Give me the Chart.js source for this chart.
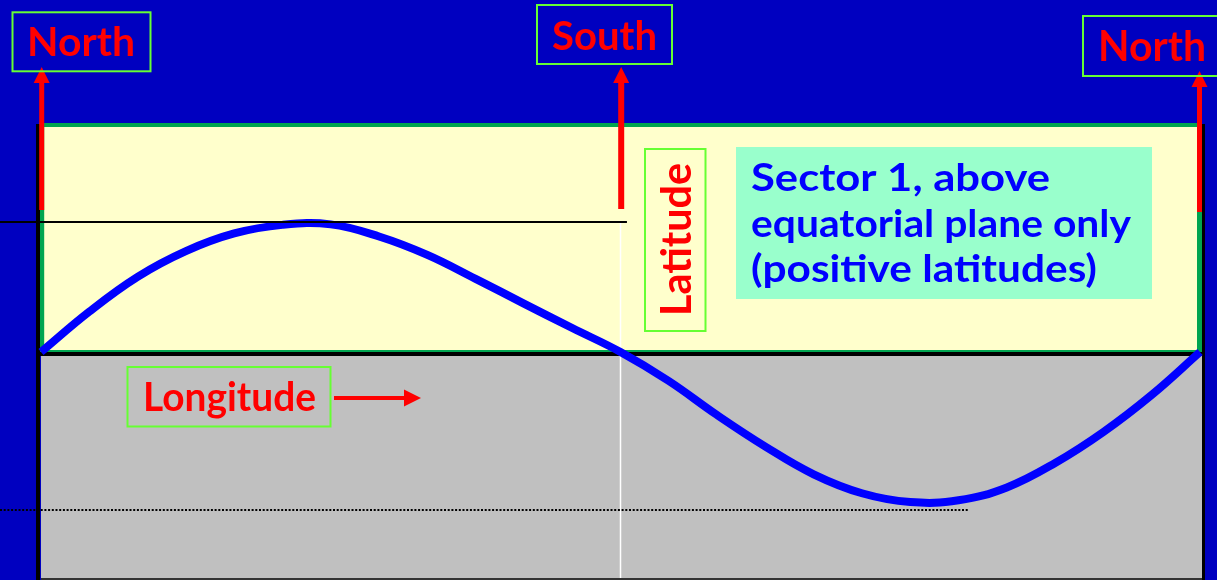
<!DOCTYPE html>
<html>
<head>
<meta charset="utf-8">
<script src="https://cdn.jsdelivr.net/npm/chart.js@4/dist/chart.umd.min.js"></script>
<style>
html,body{margin:0;padding:0;background:#0000C0;overflow:hidden}
canvas{display:block}
</style>
</head>
<body>
<canvas id="c" width="1217" height="580"></canvas>
<script>
// ---- data ----
const longitudes = [0,15,30,45,60,75,90,105,120,135,150,165,180,195,210,225,240,255,270,285,300,315,330,345,360];
const latitudes  = [0,16,29.8,40,47,50.4,50.6,45.8,38.5,29,19.2,9.5,0,-11.5,-25,-37.5,-48.5,-56,-59.5,-58.8,-53.7,-44,-31.7,-17,0];
const lonRange = [0, 360];
const latRange = [-90, 90];
const poleLongitudes = [0, 180, 360];
const poleNames = ['North', 'South', 'North'];
const axisNames = ['Latitude', 'Longitude'];
const noteLines = ['Sector 1, above', 'equatorial plane only', '(positive latitudes)'];
const markerLats = [51.5, -62.5];
const markerEndLons = [182, 288.3];

const FONT = 'Lato, "DejaVu Sans", sans-serif';
const RED = '#FF0000', BOXGREEN = '#66FF33';

function fitText(ctx, text, x, y, cap, width, color, rot) {
  ctx.save();
  ctx.font = 'bold 100px ' + FONT;
  const r = ctx.measureText('H').actualBoundingBoxAscent / 100;
  const size = cap / r;
  ctx.font = 'bold ' + size + 'px ' + FONT;
  const w = ctx.measureText(text).width;
  ctx.translate(x, y);
  if (rot) ctx.rotate(rot);
  ctx.scale(width / w, 1);
  ctx.fillStyle = color;
  ctx.textAlign = 'left';
  ctx.textBaseline = 'alphabetic';
  ctx.fillText(text, 0, 0);
  ctx.restore();
}
function arrowV(ctx, x, yTail, yTip, shaftW, headW, headL, color) {
  ctx.fillStyle = color;
  ctx.fillRect(x - shaftW / 2, yTip + headL - 1, shaftW, yTail - (yTip + headL - 1));
  ctx.beginPath();
  ctx.moveTo(x, yTip);
  ctx.lineTo(x + headW / 2, yTip + headL);
  ctx.lineTo(x - headW / 2, yTip + headL);
  ctx.closePath();
  ctx.fill();
}
function arrowH(ctx, xTail, xTip, y, shaftW, headW, headL, color) {
  ctx.fillStyle = color;
  ctx.fillRect(xTail, y - shaftW / 2, (xTip - headL + 1) - xTail, shaftW);
  ctx.beginPath();
  ctx.moveTo(xTip, y);
  ctx.lineTo(xTip - headL, y - headW / 2);
  ctx.lineTo(xTip - headL, y + headW / 2);
  ctx.closePath();
  ctx.fill();
}
function box(ctx, x, y, w, h) {
  ctx.save();
  ctx.strokeStyle = BOXGREEN;
  ctx.lineWidth = 2;
  ctx.strokeRect(x, y, w, h);
  ctx.restore();
}

const backdrop = {
  id: 'backdrop',
  beforeDraw(chart) {
    const ctx = chart.ctx, xs = chart.scales.x, ys = chart.scales.y;
    const W = chart.width, H = chart.height;
    const x0 = xs.getPixelForValue(lonRange[0]), x1 = xs.getPixelForValue(lonRange[1]);
    const yTop = ys.getPixelForValue(latRange[1]), yEq = ys.getPixelForValue(0), yBot = ys.getPixelForValue(latRange[0]);
    ctx.save();
    ctx.fillStyle = '#0000C0';
    ctx.fillRect(0, 0, W, H);
    ctx.fillStyle = '#FFFFCC';
    ctx.fillRect(x0 - 1, yTop, x1 - x0 + 2, yEq - yTop);
    ctx.fillStyle = '#C0C0C0';
    ctx.fillRect(x0, yEq + 4, x1 - x0 + 2, yBot - yEq - 4);
    ctx.strokeStyle = '#00A550';
    ctx.lineWidth = 4;
    ctx.beginPath();
    ctx.moveTo(x0 - 2, yTop); ctx.lineTo(x1 + 2, yTop);
    ctx.stroke();
    ctx.lineWidth = 5;
    ctx.beginPath();
    ctx.moveTo(x0 + 0.7, yTop); ctx.lineTo(x0 + 0.7, yEq);
    ctx.moveTo(x1 - 0.5, yTop); ctx.lineTo(x1 - 0.5, yEq);
    ctx.stroke();
    ctx.lineWidth = 2;
    ctx.beginPath();
    ctx.moveTo(x0, yEq - 1); ctx.lineTo(x1, yEq - 1);
    ctx.stroke();
    const xm = xs.getPixelForValue(poleLongitudes[1]);
    ctx.strokeStyle = '#FFFFFF';
    ctx.lineWidth = 1.5;
    ctx.beginPath();
    ctx.moveTo(xm, ys.getPixelForValue(markerLats[0]) + 1); ctx.lineTo(xm, H);
    ctx.stroke();
    ctx.strokeStyle = '#000000';
    ctx.lineWidth = 4;
    ctx.beginPath();
    ctx.moveTo(x0 - 3, yTop - 1); ctx.lineTo(x0 - 3, H);
    ctx.moveTo(x0 - 5, yEq + 2); ctx.lineTo(x1 + 5, yEq + 2);
    ctx.stroke();
    ctx.lineWidth = 3;
    ctx.beginPath();
    ctx.moveTo(x1 + 3.5, yTop - 1); ctx.lineTo(x1 + 3.5, H);
    ctx.stroke();
    ctx.lineWidth = 2;
    ctx.strokeStyle = '#333333';
    ctx.beginPath();
    ctx.moveTo(x0, H - 1); ctx.lineTo(x1 + 2, H - 1);
    ctx.stroke();
    ctx.restore();
  },
  afterDatasetsDraw(chart) {
    const ctx = chart.ctx, xs = chart.scales.x, ys = chart.scales.y;
    ctx.save();
    ctx.strokeStyle = '#000000';
    ctx.lineWidth = 2;
    const yMax = Math.round(ys.getPixelForValue(markerLats[0]));
    ctx.beginPath();
    ctx.moveTo(0, yMax); ctx.lineTo(xs.getPixelForValue(markerEndLons[0]), yMax);
    ctx.stroke();
    const yMin = Math.round(ys.getPixelForValue(markerLats[1]));
    ctx.setLineDash([2, 1.7]);
    ctx.lineWidth = 2;
    ctx.strokeStyle = '#000000';
    ctx.beginPath();
    ctx.moveTo(0, yMin); ctx.lineTo(xs.getPixelForValue(markerEndLons[1]), yMin);
    ctx.stroke();
    ctx.setLineDash([]);
    const tails = [210, 209, 212], tips = [67, 67, 71], shafts = [5, 6, 5];
    poleLongitudes.forEach((lon, i) => {
      const x = xs.getPixelForValue(lon) + (i === 2 ? -0.5 : 0.7);
      arrowV(ctx, x, tails[i], tips[i], shafts[i], 16, 16, RED);
    });
    box(ctx, 12.5, 12.3, 138, 59);
    fitText(ctx, poleNames[0], 27, 56, 29.5, 108, RED);
    box(ctx, 537, 5, 135, 59);
    fitText(ctx, poleNames[1], 552, 49.5, 29.5, 105, RED);
    box(ctx, 1083, 16, 140, 60);
    fitText(ctx, poleNames[2], 1098, 61, 30.5, 108, RED);
    box(ctx, 645, 149, 60.5, 182);
    fitText(ctx, axisNames[0], 690.5, 316, 30, 153, RED, -Math.PI / 2);
    box(ctx, 127.5, 367, 203, 59.5);
    fitText(ctx, axisNames[1], 143, 411, 29, 173, RED);
    arrowH(ctx, 334, 421, 398, 4, 17, 17, RED);
    ctx.fillStyle = '#99FFCC';
    ctx.fillRect(736, 147, 416, 152);
    const noteWidths = [299, 380, 346];
    const noteBase = [191, 237, 282];
    noteLines.forEach((t, i) => fitText(ctx, t, 751, noteBase[i], 27.5, noteWidths[i], '#0000FF'));
    ctx.restore();
  }
};

new Chart(document.getElementById('c'), {
  type: 'line',
  data: {
    datasets: [{
      data: longitudes.map((lon, i) => ({ x: lon, y: latitudes[i] })),
      borderColor: '#0000FF',
      borderWidth: 8,
      pointRadius: 0,
      tension: 0.4,
      fill: false,
      clip: false
    }]
  },
  options: {
    responsive: false,
    animation: false,
    devicePixelRatio: 1,
    layout: { padding: { left: 41, right: 17, top: 125, bottom: 1 } },
    scales: {
      x: { type: 'linear', min: lonRange[0], max: lonRange[1], display: false },
      y: { type: 'linear', min: latRange[0], max: latRange[1], display: false }
    },
    plugins: { legend: { display: false }, tooltip: { enabled: false } },
    events: []
  },
  plugins: [backdrop]
});
</script>
</body>
</html>
